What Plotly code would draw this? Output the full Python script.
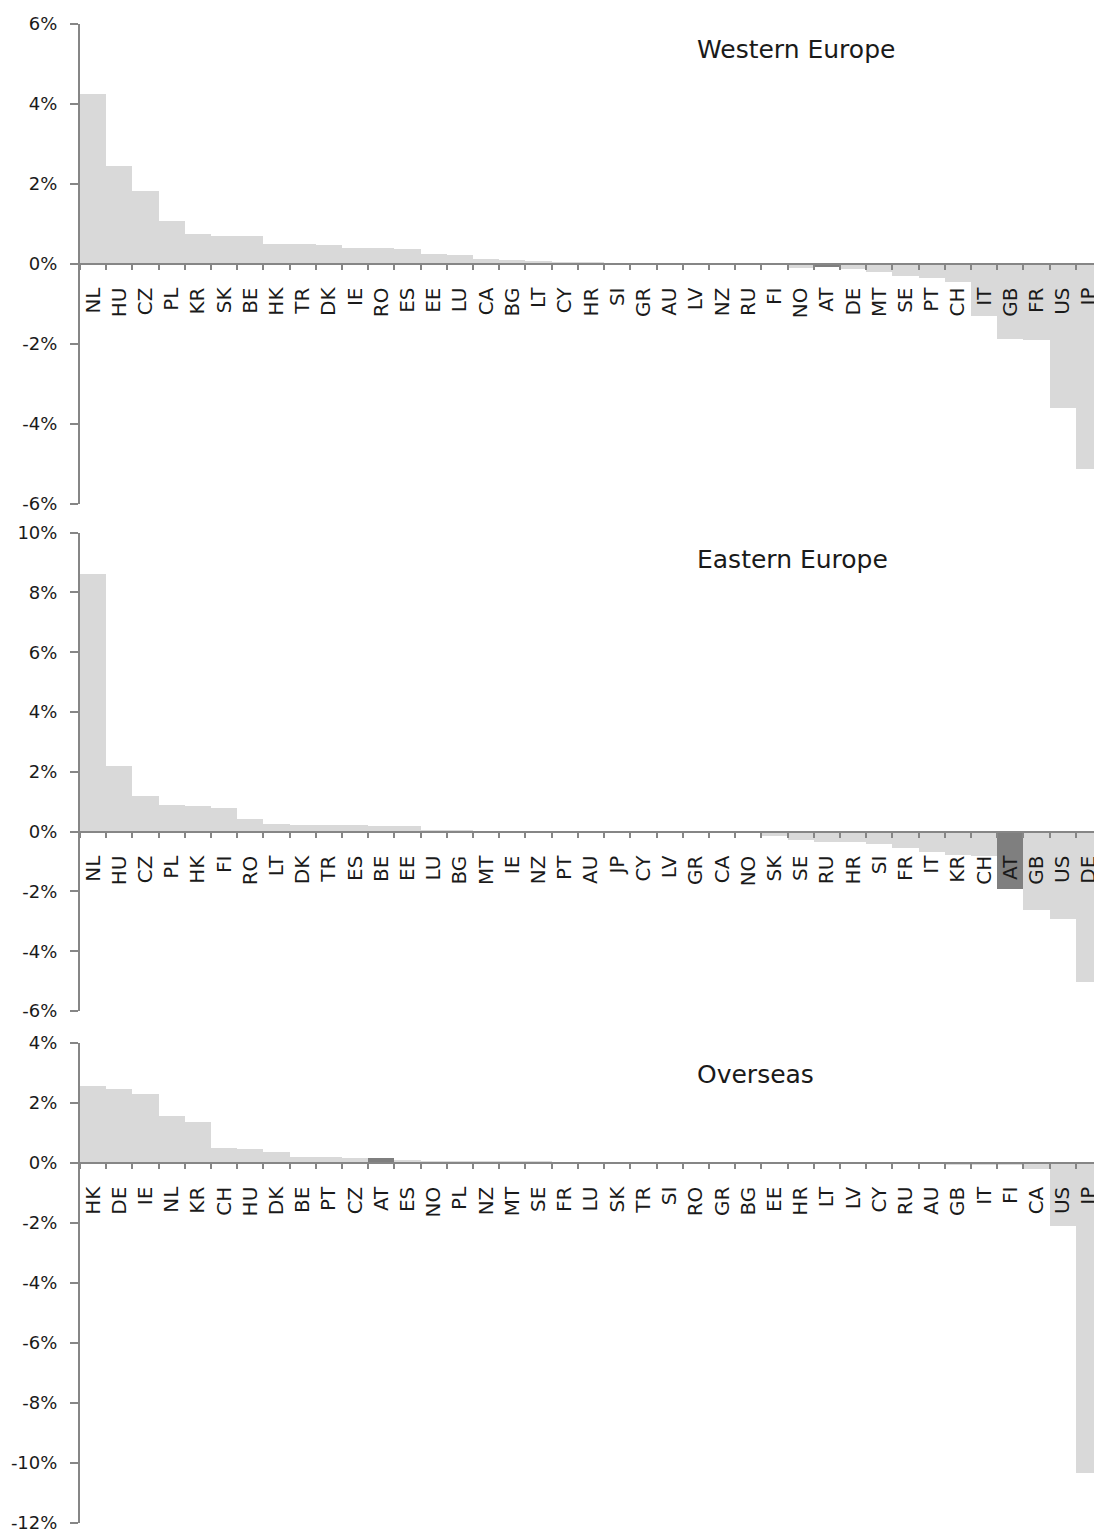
import plotly.graph_objects as go

# country codes and values (in %) for each panel
west_countries = ["NL", "HU", "CZ", "PL", "KR", "SK", "BE", "HK", "TR", "DK", "IE", "RO", "ES",
                  "EE", "LU", "CA", "BG", "LT", "CY", "HR", "SI", "GR", "AU", "LV", "NZ", "RU",
                  "FI", "NO", "AT", "DE", "MT", "SE", "PT", "CH", "IT", "GB", "FR", "US", "JP"]
west_values = [4.26, 2.46, 1.83, 1.07, 0.76, 0.71, 0.69, 0.51, 0.49, 0.47, 0.40, 0.39, 0.38,
               0.26, 0.23, 0.13, 0.09, 0.07, 0.05, 0.03, 0.01, 0.01, 0.005, 0.0, 0.0, 0.0,
               0.0, -0.09, -0.08, -0.13, -0.19, -0.31, -0.35, -0.46, -1.31, -1.87, -1.90, -3.60, -5.12]

east_countries = ["NL", "HU", "CZ", "PL", "HK", "FI", "RO", "LT", "DK", "TR", "ES", "BE", "EE",
                  "LU", "BG", "MT", "IE", "NZ", "PT", "AU", "JP", "CY", "LV", "GR", "CA", "NO",
                  "SK", "SE", "RU", "HR", "SI", "FR", "IT", "KR", "CH", "AT", "GB", "US", "DE"]
east_values = [8.62, 2.19, 1.19, 0.90, 0.87, 0.79, 0.44, 0.28, 0.24, 0.23, 0.22, 0.20, 0.20,
               0.07, 0.06, 0.03, 0.02, 0.01, 0.01, 0.0, 0.0, 0.0, -0.01, -0.01, -0.02, -0.05,
               -0.12, -0.28, -0.32, -0.32, -0.42, -0.54, -0.67, -0.76, -0.82, -1.90, -2.62, -2.91, -5.02]

overseas_countries = ["HK", "DE", "IE", "NL", "KR", "CH", "HU", "DK", "BE", "PT", "CZ", "AT", "ES",
                      "NO", "PL", "NZ", "MT", "SE", "FR", "LU", "SK", "TR", "SI", "RO", "GR", "BG",
                      "EE", "HR", "LT", "LV", "CY", "RU", "AU", "GB", "IT", "FI", "CA", "US", "JP"]
overseas_values = [2.58, 2.46, 2.31, 1.56, 1.38, 0.50, 0.48, 0.36, 0.21, 0.19, 0.16, 0.16, 0.09,
                   0.08, 0.07, 0.07, 0.05, 0.04, 0.03, 0.02, 0.02, 0.01, 0.01, 0.0, 0.0, -0.01,
                   -0.01, -0.01, -0.01, -0.02, -0.02, -0.02, -0.03, -0.04, -0.05, -0.08, -0.20, -2.10, -10.32]

panel_titles = ["Western Europe", "Eastern Europe", "Overseas"]
west_ticks = [6, 4, 2, 0, -2, -4, -6]
east_ticks = [10, 8, 6, 4, 2, 0, -2, -4, -6]
overseas_ticks = [4, 2, 0, -2, -4, -6, -8, -10, -12]

highlight = "AT"

# the page body adds an 8px margin, so the figure is 8px smaller each way
W, H = 1094, 1524
FONT = "DejaVu Sans"
AXIS_COLOR = "#868686"
BAR_COLOR = "#d9d9d9"
HI_COLOR = "#7f7f7f"
TEXT_COLOR = "#1a1a1a"

# pixel extents of each panel (top, bottom) in figure pixels -> paper domains
panel_px = [(15.5, 495.5), (524.7, 1003.0), (1034.7, 1514.7)]
domains = [[1 - b / H, 1 - t / H] for t, b in panel_px]
title_y = [0.945, 0.943, 0.933]

panels = [
    (west_countries, west_values, west_ticks),
    (east_countries, east_values, east_ticks),
    (overseas_countries, overseas_values, overseas_ticks),
]

fig = go.Figure()
layout = {}
annotations = []

for i, (countries, values, ticks) in enumerate(panels):
    n = i + 1
    sfx = "" if n == 1 else str(n)
    colors = [HI_COLOR if c == highlight else BAR_COLOR for c in countries]
    fig.add_trace(go.Bar(
        x=countries, y=values,
        marker=dict(color=colors, line_width=0),
        xaxis="x" + sfx, yaxis="y" + sfx,
        showlegend=False,
    ))

    y0, y1 = min(ticks), max(ticks)
    d0, d1 = domains[i]
    # put the category axis on the zero line
    zero_pos = d0 + (0 - y0) / (y1 - y0) * (d1 - d0)

    layout["xaxis" + sfx] = dict(
        domain=[0, 1],
        anchor="free", position=zero_pos,
        type="category",
        categoryorder="array", categoryarray=countries,
        range=[-0.5, len(countries) - 0.5],
        showline=True, linecolor=AXIS_COLOR, linewidth=2,
        ticks="outside", tickson="boundaries", ticklen=5, tickwidth=1.5, tickcolor=AXIS_COLOR,
        tickangle=-90, tickfont=dict(family=FONT, size=20, color=TEXT_COLOR),
        ticklabelstandoff=15,
        ticklabeloverflow="allow",
        showgrid=False, zeroline=False,
        layer="above traces",
        automargin=False,
        fixedrange=True,
    )
    layout["yaxis" + sfx] = dict(
        domain=domains[i],
        anchor="x" + sfx,
        range=[y0, y1],
        tickvals=ticks, ticktext=[f"{t}%" for t in ticks],
        showline=True, linecolor=AXIS_COLOR, linewidth=2,
        ticks="outside", ticklen=8, tickwidth=2, tickcolor=AXIS_COLOR,
        tickfont=dict(family=FONT, size=18, color=TEXT_COLOR),
        ticklabelstandoff=9,
        ticklabeloverflow="allow",
        showgrid=False, zeroline=False,
        layer="above traces",
        automargin=False,
        fixedrange=True,
    )
    annotations.append(dict(
        text=panel_titles[i],
        xref="x" + sfx + " domain", yref="y" + sfx + " domain",
        x=0.602, y=title_y[i], xanchor="left", yanchor="middle",
        showarrow=False,
        font=dict(family=FONT, size=25, color=TEXT_COLOR),
    ))

fig.update_layout(
    width=W, height=H,
    margin=dict(l=72, r=0, t=0, b=0, autoexpand=False),
    bargap=0,
    plot_bgcolor="white", paper_bgcolor="white",
    font=dict(family=FONT, color=TEXT_COLOR),
    annotations=annotations,
    **layout,
)

fig.write_html("out.html")
